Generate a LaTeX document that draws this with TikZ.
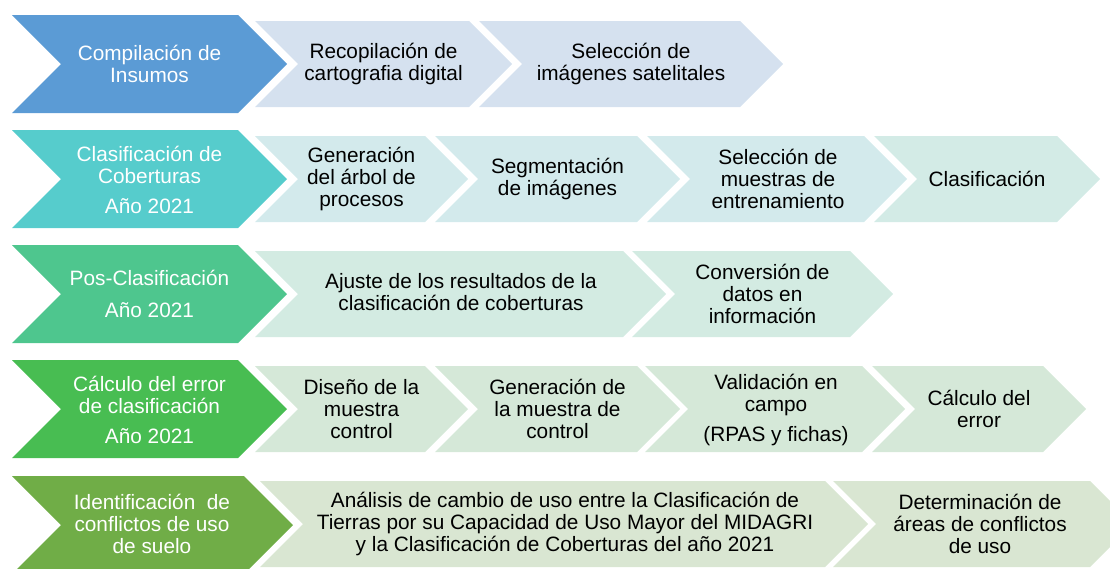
\documentclass[tikz,border=0pt]{standalone}
\usepackage{fontspec}
\setmainfont{Liberation Sans}
\definecolor{mainA}{RGB}{91,155,213}
\definecolor{mainB}{RGB}{86,204,204}
\definecolor{mainC}{RGB}{78,198,142}
\definecolor{mainD}{RGB}{72,189,82}
\definecolor{mainE}{RGB}{112,173,71}
\definecolor{subA}{RGB}{213,225,239}
\definecolor{subB}{RGB}{211,234,236}
\definecolor{subBb}{RGB}{211,235,230}
\definecolor{subC}{RGB}{211,235,226}
\definecolor{subD}{RGB}{213,232,216}
\definecolor{subE}{RGB}{217,230,210}
% #1 left, #2 top, #3 tip x, #4 bottom, #5 half height, #6 colour
\newcommand\chevshape[6]{%
  \fill[#6] (#1,#2) -- ({#3-#5},#2) -- (#3,{(#2+#4)/2}) -- ({#3-#5},#4)
    -- (#1,#4) -- ({#1+#5},{(#2+#4)/2}) -- cycle;}
\begin{document}
\begin{tikzpicture}[x=0.75pt,y=-0.75pt,
  lbl/.style={align=center,inner sep=0pt,font=\fontsize{15.6}{16.5}\selectfont},
  mainlbl/.style={lbl,text=white},
  sublbl/.style={lbl,text=black}]
\useasboundingbox (0,0) rectangle (1110,568);
\clip (0,0) rectangle (1110,568);

% ---------- Row 1
\chevshape{12}{15}{287}{113}{49}{mainA}
\chevshape{255}{21}{512}{107}{43}{subA}
\chevshape{479}{21}{783}{107}{43}{subA}
\node[mainlbl] (m1) at (149.5,64) {Compilación de\\Insumos};
\node[sublbl] (s11) at (383.5,64) {Recopilación de\\cartografia digital};
\node[sublbl] (s12) at (631,64) {Selección de\\imágenes satelitales};

% ---------- Row 2
\chevshape{12}{130}{287}{228}{49}{mainB}
\chevshape{255}{136}{468}{222}{43}{subB}
\chevshape{435}{136}{680}{222}{43}{subB}
\chevshape{647}{136}{907}{222}{43}{subB}
\chevshape{874}{136}{1100}{222}{43}{subBb}
\node[mainlbl] (m2) at (149.5,180) {Clasificación de\\Coberturas\\[6pt]Año 2021};
\node[sublbl] (s21) at (361.5,179) {Generación\\del árbol de\\procesos};
\node[sublbl] (s22) at (557.5,179) {Segmentación\\de imágenes};
\node[sublbl] (s23) at (778,179) {Selección de\\muestras de\\entrenamiento};
\node[sublbl] (s24) at (987,179) {Clasificación};

% ---------- Row 3
\chevshape{12}{245}{287}{343}{49}{mainC}
\chevshape{255}{251}{666}{337}{43}{subC}
\chevshape{632}{251}{893}{337}{43}{subC}
\node[mainlbl] (m3) at (149.5,294) {Pos-Clasificación\\[7pt]Año 2021};
\node[sublbl] (s31) at (461,292) {Ajuste de los resultados de la\\clasificación de coberturas};
\node[sublbl] (s32) at (762.5,294) {Conversión de\\datos en\\información};

% ---------- Row 4
\chevshape{12}{360}{287}{458}{49}{mainD}
\chevshape{255}{366}{468}{452}{43}{subD}
\chevshape{435}{366}{680}{452}{43}{subD}
\chevshape{645}{366}{905}{452}{43}{subD}
\chevshape{872}{366}{1086}{452}{43}{subD}
\node[mainlbl] (m4) at (149.5,410) {Cálculo del error\\de clasificación\\[6pt]Año 2021};
\node[sublbl] (s41) at (361.5,409) {Diseño de la\\muestra\\control};
\node[sublbl] (s42) at (557.5,409) {Generación de\\la muestra de\\control};
\node[sublbl] (s43) at (776,410) {Validación en\\campo\\[6pt](RPAS y fichas)};
\node[sublbl] (s44) at (979,409) {Cálculo del\\error};

% ---------- Row 5
\chevshape{12}{476}{293}{574}{49}{mainE}
\chevshape{260}{481}{868}{567}{43}{subE}
\chevshape{833}{481}{1133}{567}{43}{subE}
\node[mainlbl] (m5) at (152,524) {Identificación~ de\\conflictos de uso\\de suelo};
\node[sublbl] (s51) at (565,524) {Análisis de cambio de uso entre la Clasificación de\\Tierras por su Capacidad de Uso Mayor del MIDAGRI\\y la Clasificación de Coberturas del año 2021};
\node[sublbl] (s52) at (980,524) {Determinación de\\áreas de conflictos\\de uso};
\end{tikzpicture}
\end{document}
